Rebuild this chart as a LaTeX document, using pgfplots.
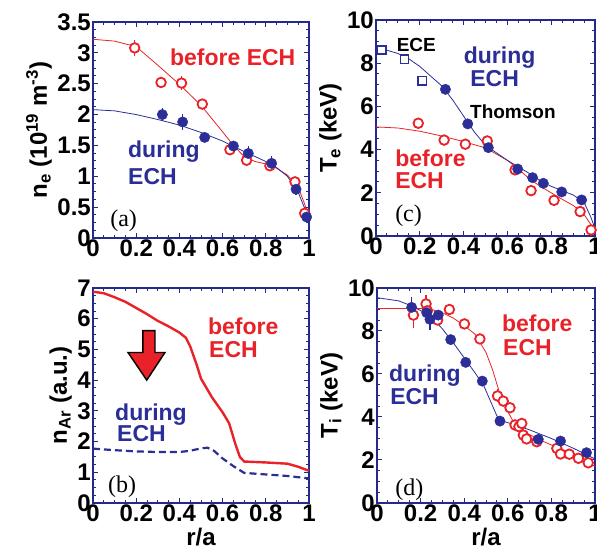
\documentclass[border=0pt]{standalone}
\usepackage{fontspec}
\setmainfont{Liberation Sans}
\newfontfamily\seriffont{Liberation Serif}
\usepackage{pgfplots}
\pgfplotsset{compat=1.18}
\definecolor{myred}{RGB}{232,34,40}
\definecolor{myblue}{RGB}{42,46,150}
\definecolor{frameblue}{RGB}{36,42,140}
\tikzset{
  lab/.style={anchor=base west, inner sep=0pt, font=\bfseries\fontsize{23}{23}\selectfont},
  plab/.style={anchor=base west, inner sep=0pt, font=\seriffont\fontsize{24}{24}\selectfont},
}
\pgfplotsset{
  panel/.style={scale only axis, clip=false,
    axis line style={frameblue, line width=1.6pt},
    xmin=0, xmax=1, xtick={0,0.2,0.4,0.6,0.8,1}, minor x tick num=3,
    tick align=inside, major tick length=5pt, minor tick length=3pt,
    every tick/.style={frameblue, line width=1pt},
    ticklabel style={font=\bfseries\fontsize{24}{24}\selectfont, inner sep=2pt},
    /pgf/number format/assume math mode=true,
    label style={font=\bfseries\fontsize{24}{26}\selectfont},
  },
  fitline/.style={line width=0.8pt, no marks},
  redpt/.style={only marks, mark=*, mark size=4.8pt, mark options={draw=myred, fill=white, line width=1.8pt},
    error bars/.cd, y dir=both, y explicit, error mark=none, error bar style={myred, line width=1.6pt}},
  bluept/.style={only marks, mark=*, mark size=5.2pt, mark options={draw=myblue, fill=myblue},
    error bars/.cd, y dir=both, y explicit, error mark=none, error bar style={myblue, line width=1.6pt}},
}
\begin{document}
\begin{tikzpicture}
\useasboundingbox (0pt,0pt) rectangle (597pt,554pt);
% (a) density
\begin{axis}[panel, at={(93pt,316pt)}, anchor=south west, width=216pt, height=216pt,
  ymin=0, ymax=3.5, ytick={0,0.5,1,1.5,2,2.5,3,3.5}, minor y tick num=3,
  ylabel={n\textsubscript{e} (10\textsuperscript{19} m\textsuperscript{-3})}]
\addplot[fitline, myred] coordinates {(0,3.22)(0.1,3.19)(0.2,3.10)(0.3,2.80)(0.4,2.49)(0.5,2.15)(0.6,1.72)(0.65,1.50)(0.7,1.32)(0.75,1.24)(0.8,1.20)(0.85,1.13)(0.9,1.02)(0.95,0.82)(0.98,0.55)(1,0.3)};
\addplot[fitline, myblue] coordinates {(0,2.08)(0.1,2.06)(0.2,2.00)(0.3,1.92)(0.4,1.83)(0.5,1.71)(0.6,1.57)(0.7,1.40)(0.8,1.24)(0.85,1.14)(0.9,1.00)(0.95,0.74)(0.98,0.48)(1,0.2)};
\addplot[redpt] coordinates {(0.193,3.08) +- (0,0.13) (0.315,2.52) +- (0,0.08) (0.41,2.51) +- (0,0.12) (0.506,2.17) +- (0,0.08) (0.634,1.43) +- (0,0.05) (0.711,1.26) +- (0,0.1) (0.819,1.17) +- (0,0.05) (0.935,0.91) +- (0,0.08) (0.98,0.40) +- (0,0.05)};
\addplot[bluept] coordinates {(0.321,2.0) +- (0,0.1) (0.415,1.88) +- (0,0.13) (0.517,1.63) +- (0,0.08) (0.65,1.49) +- (0,0.08) (0.719,1.37) +- (0,0.12) (0.827,1.21) +- (0,0.12) (0.94,0.79) +- (0,0.1) (0.989,0.34) +- (0,0.1)};
\node[lab, text=myred] at (axis cs:0.356,2.80) {before ECH};
\node[lab, text=myblue] at (axis cs:0.162,1.31) {during};
\node[lab, text=myblue] at (axis cs:0.162,0.86) {ECH};
\node[plab] at (axis cs:0.079,0.19) {(a)};
\end{axis}
% (c) electron temperature
\begin{axis}[panel, at={(376pt,318pt)}, anchor=south west, width=219pt, height=216pt,
  ymin=0, ymax=10, ytick={0,2,4,6,8,10}, minor y tick num=3,
  ylabel={T\textsubscript{e} (keV)}]
\addplot[fitline, myred] coordinates {(0,5.05)(0.1,5.0)(0.2,4.85)(0.3,4.63)(0.4,4.37)(0.5,4.08)(0.6,3.5)(0.65,3.1)(0.7,2.65)(0.75,2.3)(0.8,2.0)(0.85,1.7)(0.9,1.42)(0.95,1.0)(0.98,0.55)(1,0.2)};
\addplot[fitline, myblue] coordinates {(0,8.65)(0.05,8.6)(0.1,8.45)(0.15,8.2)(0.2,7.85)(0.25,7.4)(0.3,6.95)(0.35,6.3)(0.4,5.55)(0.45,4.8)(0.5,4.2)(0.55,3.85)(0.6,3.5)(0.65,3.2)(0.7,2.9)(0.75,2.55)(0.8,2.3)(0.85,2.1)(0.9,1.9)(0.95,1.55)(0.98,0.9)(1,0.35)};
\addplot[only marks, mark=square*, mark size=4.2pt, mark options={draw=myblue, fill=white, line width=1.5pt}] coordinates {(0.026,8.61)(0.13,8.18)(0.212,7.19)};
\addplot[redpt] coordinates {(0.193,5.22)(0.311,4.44)(0.408,4.25)(0.508,4.40)(0.635,3.06)(0.708,2.10)(0.813,1.65)(0.932,1.13)(0.982,0.28)};
\addplot[bluept] coordinates {(0.317,6.79)(0.419,5.19)(0.513,4.09)(0.647,3.10)(0.715,2.70)(0.764,2.44)(0.848,2.04)(0.939,1.67)};
\node[lab, font=\bfseries\fontsize{19}{19}\selectfont] at (axis cs:0.094,8.53) {ECE};
\node[lab, font=\bfseries\fontsize{19}{19}\selectfont] at (axis cs:0.429,5.45) {Thomson};
\node[lab, text=myblue] at (axis cs:0.40,8.0) {during};
\node[lab, text=myblue] at (axis cs:0.43,6.91) {ECH};
\node[lab, text=myred] at (axis cs:0.087,3.21) {before};
\node[lab, text=myred] at (axis cs:0.087,2.21) {ECH};
\node[plab] at (axis cs:0.087,0.66) {(c)};
\end{axis}
% (b) argon density
\begin{axis}[panel, at={(93pt,51pt)}, anchor=south west, width=216pt, height=215pt,
  ymin=0, ymax=7, ytick={0,1,2,3,4,5,6,7}, minor y tick num=3,
  ylabel={n\textsubscript{Ar} (a.u.)}, xlabel={r/a}]
\addplot[no marks, myred, line width=2.4pt] coordinates {(0,6.88)(0.05,6.83)(0.1,6.7)(0.15,6.55)(0.2,6.35)(0.25,6.15)(0.3,5.93)(0.35,5.75)(0.4,5.55)(0.43,5.38)(0.45,5.1)(0.48,4.5)(0.5,4.05)(0.55,3.45)(0.6,2.95)(0.63,2.6)(0.66,1.9)(0.68,1.5)(0.7,1.35)(0.8,1.32)(0.9,1.28)(0.95,1.18)(1,1.05)};
\addplot[no marks, myblue, line width=2.2pt, dash pattern=on 7pt off 4pt] coordinates {(0,1.77)(0.1,1.72)(0.2,1.68)(0.3,1.66)(0.4,1.66)(0.45,1.7)(0.5,1.78)(0.53,1.8)(0.56,1.7)(0.6,1.45)(0.65,1.2)(0.7,0.98)(0.8,0.93)(0.9,0.88)(1,0.8)};
\draw[fill=myred, draw=black, line width=1.4pt, line join=miter]
  (axis cs:0.231,5.61) -- (axis cs:0.287,5.61) -- (axis cs:0.287,4.9) -- (axis cs:0.333,4.9)
  -- (axis cs:0.249,4.0) -- (axis cs:0.162,4.9) -- (axis cs:0.231,4.9) -- cycle;
\node[lab, text=myred] at (axis cs:0.532,5.50) {before};
\node[lab, text=myred] at (axis cs:0.537,4.74) {ECH};
\node[lab, text=myblue] at (axis cs:0.102,2.70) {during};
\node[lab, text=myblue] at (axis cs:0.111,2.0) {ECH};
\node[plab] at (axis cs:0.069,0.34) {(b)};
\end{axis}
% (d) ion temperature
\begin{axis}[panel, at={(377pt,51pt)}, anchor=south west, width=218pt, height=215pt,
  ymin=0, ymax=10, ytick={0,2,4,6,8,10}, minor y tick num=3,
  ylabel={T\textsubscript{i} (keV)}, xlabel={r/a}]
\addplot[fitline, myred] coordinates {(0,9.05)(0.1,9.05)(0.2,9.05)(0.25,9.0)(0.3,8.85)(0.35,8.6)(0.4,8.25)(0.45,7.85)(0.5,7.0)(0.53,6.2)(0.56,5.2)(0.6,4.25)(0.63,3.7)(0.68,3.28)(0.75,2.92)(0.8,2.7)(0.88,2.35)(0.95,2.0)(1,1.7)};
\addplot[no marks, myred, line width=1.8pt] coordinates {(0,9.05)(0.17,9.05)};
\addplot[fitline, myblue] coordinates {(0,9.55)(0.1,9.4)(0.15,9.2)(0.2,8.95)(0.25,8.65)(0.3,8.1)(0.35,7.45)(0.4,6.75)(0.45,6.05)(0.49,5.45)(0.52,4.75)(0.55,4.05)(0.58,3.8)(0.65,3.58)(0.7,3.4)(0.8,3.0)(0.9,2.55)(0.95,2.3)(1,2.05)};
\addplot[redpt] coordinates {(0.167,8.74) += (0,0.2) -= (0,0.6) (0.225,9.26) += (0,0.4) -= (0,0.2) (0.231,8.94) (0.278,8.51) (0.332,9.0) (0.401,8.33) (0.472,7.63) (0.553,4.98) +- (0,0.3) (0.579,4.74) (0.61,4.43) (0.633,3.63) (0.651,3.55) (0.664,3.7) (0.671,3.16) (0.686,2.98) (0.733,2.85) (0.825,2.54) (0.842,2.28) (0.882,2.27) (0.924,2.08) (0.969,1.87)};
\addplot[bluept] coordinates {(0.159,9.1) += (0,0.5) -= (0,0.1) (0.228,8.85) (0.243,8.54) += (0,0.1) -= (0,0.5) (0.281,8.74) (0.338,7.6) (0.407,6.54) (0.483,5.67) (0.564,3.81) (0.74,2.96) (0.842,2.88) (0.961,2.34)};
\node[lab, text=myred] at (axis cs:0.573,7.97) {before};
\node[lab, text=myred] at (axis cs:0.578,6.88) {ECH};
\node[lab, text=myblue] at (axis cs:0.055,5.64) {during};
\node[lab, text=myblue] at (axis cs:0.06,4.56) {ECH};
\node[plab] at (axis cs:0.083,0.37) {(d)};
\end{axis}
\end{tikzpicture}
\end{document}
